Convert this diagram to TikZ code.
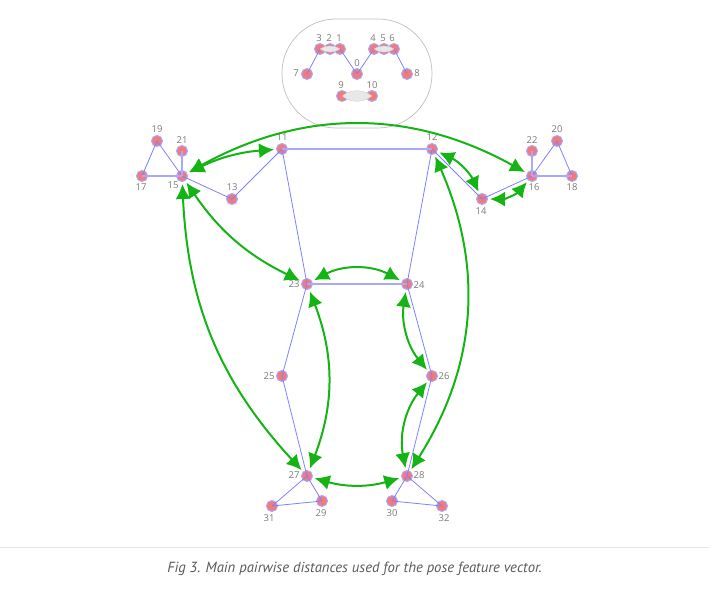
\documentclass[tikz,border=0pt]{standalone}
\usepackage{fontspec}
\usepackage{xcolor}
\usetikzlibrary{arrows.meta}
\setmainfont{Open Sans}
\newfontfamily\captionfont{PT Sans}
\definecolor{POSEblue}{HTML}{8080FF}
\definecolor{POSEpale}{HTML}{A8A8FF}
\definecolor{POSEred}{HTML}{F27A7A}
\definecolor{POSEgreen}{HTML}{14B414}
\definecolor{POSEgray}{HTML}{7A7A7A}
\tikzset{
  joint/.style={circle, fill=POSEred, draw=POSEpale, line width=1pt, minimum size=11pt, inner sep=0pt},
  jointlabel/.style={font=\fontsize{9.5}{11}\selectfont, POSEgray, inner sep=0pt},
  bone/.style={draw=POSEblue, line width=0.8pt},
  thickbone/.style={draw=POSEpale, line width=1.8pt},
  lens/.style={fill=black!9, draw=black!20, line width=0.4pt},
  dist/.style={POSEgreen, line width=2pt, {Latex[length=15pt,width=15pt]}-{Latex[length=15pt,width=15pt]}, shorten <=2pt, shorten >=2pt},
}
\begin{document}
\begin{tikzpicture}[x=1pt,y=-1pt]
  \useasboundingbox (0,0) rectangle (709,591);
  \node[draw=black!25, line width=0.7pt, rounded corners=54pt, minimum width=150pt, minimum height=109pt, inner sep=0pt] (head) at (357,73.5) {};
  % joints: name/x/y/label x/label y
  \foreach \n/\x/\y/\lx/\ly in {
      0/357/74/357/63, 1/340/49/339/38, 2/330/49/329/38, 3/320/49/319/38,
      4/374/49/373/38, 5/384/49/383/38, 6/394/49/392/38, 7/307/74/296/73,
      8/407/74/417/73, 9/342/96/341/85, 10/372/96/372/85, 11/282/149/282/137,
      12/432/149/432/137, 13/232/199/232/187, 14/482/199/481/211, 15/182/176/173/185,
      16/532/176/534/187, 17/142/176/141/187, 18/572/176/572/187, 19/157/141/157/129,
      20/557/141/557/129, 21/182/151/182/140, 22/532/151/532/140, 23/307/284/294/284,
      24/407/284/419/285, 25/282/376/269/376, 26/432/376/444/376, 27/307/476/294/475,
      28/407/476/419/475, 29/322/501/321/513, 30/392/501/392/513, 31/272/506/269/518,
      32/442/506/444/518} {
    \node[joint] (n\n) at (\x,\y) {};
    \node[jointlabel] (l\n) at (\lx,\ly) {\n};
  }
  % eyes and mouth
  \path[lens] (n1.center) to[bend left=32] (n3.center) to[bend left=32] (n1.center);
  \path[lens] (n4.center) to[bend left=32] (n6.center) to[bend left=32] (n4.center);
  \path[lens] (n9.center) to[bend left=37] (n10.center) to[bend left=37] (n9.center);
  % skeleton
  \foreach \a/\b in {0/1, 0/4, 3/7, 6/8, 11/13, 13/15, 17/19, 19/15, 12/14, 14/16,
      18/20, 20/16, 11/23, 12/24, 23/25, 25/27, 27/29, 29/31, 31/27, 24/26, 26/28,
      28/30, 30/32, 32/28} {
    \draw[bone] (n\a.center) -- (n\b.center);
  }
  \foreach \a/\b in {11/12, 15/17, 15/21, 16/18, 16/22, 23/24} {
    \draw[thickbone] (n\a.center) -- (n\b.center);
  }
  % pairwise distances
  \draw[dist] (n15) to[bend left=29] (n16);
  \draw[dist] (n15) to[bend left=11] (n11);
  \draw[dist] (n15) to[bend right=15] (n23);
  \draw[dist] (n15) to[bend right=20] (n27);
  \draw[dist] (n23) to[bend left=21] (n27);
  \draw[dist] (n23) to[bend left=28] (n24);
  \draw[dist] (n24) to[bend right=24] (n26);
  \draw[dist] (n26) to[bend right=25] (n28);
  \draw[dist] (n12) to[bend left=28] (n28);
  \draw[dist] (n12) to[bend left=20] (n14);
  \draw[dist] (n14) to[bend right=25] (n16);
  \draw[dist] (n27) to[bend right=16] (n28);
  % caption
  \coordinate (ruleleft) at (0,547);
  \coordinate (ruleright) at (709,547);
  \draw[black!10, line width=0.8pt] (ruleleft) -- (ruleright);
  \node[font=\captionfont\itshape\fontsize{14.7}{17}\selectfont, black!65] (caption) at (354.5,569) {Fig 3. Main pairwise distances used for the pose feature vector.};
\end{tikzpicture}
\end{document}
